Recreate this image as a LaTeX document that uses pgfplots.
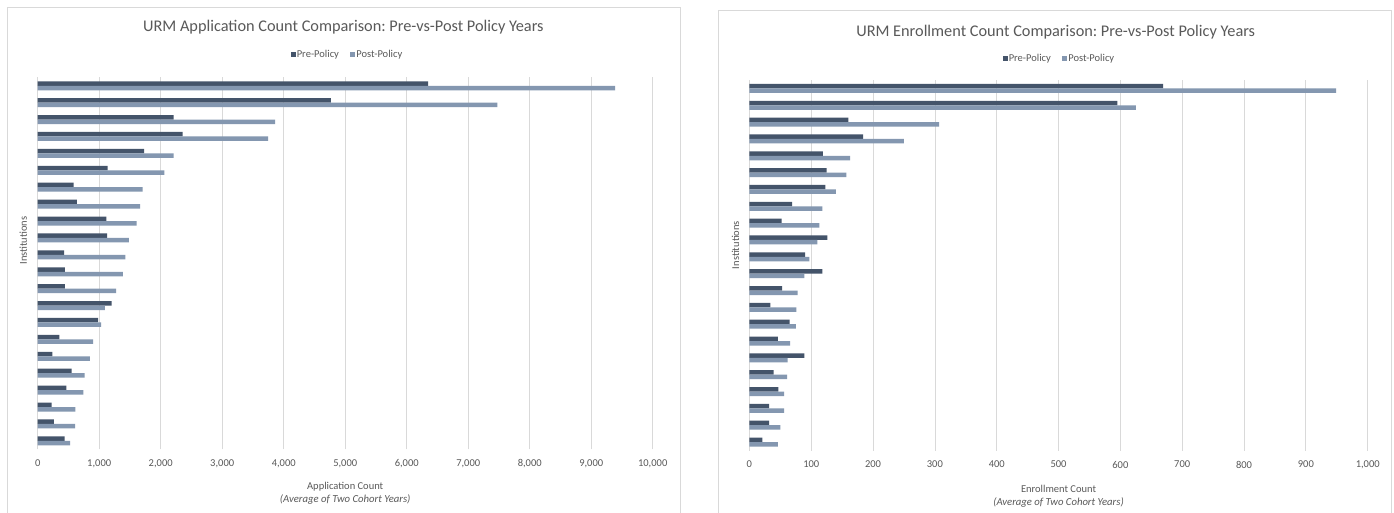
\documentclass[border=0pt]{standalone}
\usepackage{pgfplots}
\usepackage{pgfplotstable}
\pgfplotsset{compat=1.18}
\usepackage{fontspec}
\setmainfont{Carlito}
\definecolor{preC}{HTML}{44546A}
\definecolor{postC}{HTML}{8497B0}
\definecolor{gridC}{HTML}{D9D9D9}
\definecolor{txtC}{HTML}{595959}
\definecolor{bordC}{HTML}{D9D9D9}

\pgfplotstableread{
row pre post
1 6350 9390
2 4765 7475
3 2210 3860
4 2357 3748
5 1729 2209
6 1136 2061
7 586 1708
8 635 1666
9 1115 1609
10 1129 1482
11 430 1426
12 440 1383
13 440 1277
14 1200 1094
15 981 1030
16 353 903
17 240 847
18 550 762
19 466 741
20 226 614
21 261 607
22 438 529
}\apptab

\pgfplotstableread{
row pre post
1 669 949
2 595 625
3 160 307
4 184 250
5 119 163
6 125 157
7 123 140
8 69 118
9 52 113
10 126 110
11 90 97
12 118 89
13 53 78
14 34 76
15 65 75
16 46 66
17 89 62
18 39 61
19 47 56
20 32 56
21 32 50
22 21 46
}\enrtab

\pgfplotsset{
  common/.style={
    anchor=south west,
    scale only axis,
    ymin=0.5, ymax=22.5,
    ytick=\empty,
    axis line style={draw=none},
    xmajorgrids,
    grid style={color=gridC, line width=0.8pt},
    major tick length=0pt,
    scaled x ticks=false,
    every axis title shift=0pt,
    /pgf/number format/.cd, 1000 sep={,}, assume math mode=true,
    /pgfplots/.cd,
    xticklabel style={anchor=center, yshift=-14pt, font=\fontsize{10.5}{12}\selectfont, text=txtC},
    title style={anchor=center, font=\fontsize{16.3}{19}\selectfont, text=txtC},
    xlabel style={anchor=center, align=center, font=\fontsize{10.5}{13}\selectfont, text=txtC},
    ylabel style={anchor=center, font=\fontsize{10.5}{12}\selectfont, text=txtC},
    legend style={draw=none, fill=none, anchor=center, legend columns=2,
      font=\fontsize{10.5}{12}\selectfont, text=txtC,
      nodes={inner sep=1.2pt},
      /tikz/every even column/.append style={column sep=10pt}},
  },
  prebar/.style={xbar, bar width=4.5pt, bar shift=2.25pt, fill=preC, draw=none,
    legend image code/.code={\fill[preC] (0pt,-2.6pt) rectangle (5pt,2.6pt);}},
  postbar/.style={xbar, bar width=4.5pt, bar shift=-2.25pt, fill=postC, draw=none,
    legend image code/.code={\fill[postC] (0pt,-2.6pt) rectangle (5pt,2.6pt);}},
}

\begin{document}
\begin{tikzpicture}
\useasboundingbox (0pt,0pt) rectangle (1394pt,512pt);
\fill[white] (0pt,0pt) rectangle (1394pt,512pt);
\draw[bordC, line width=0.8pt] (7pt,-2pt) -- (7pt,504.7pt) -- (680.3pt,504.7pt) -- (680.3pt,-2pt);
\draw[bordC, line width=0.8pt] (718.3pt,-2pt) -- (718.3pt,501.3pt) -- (1391.7pt,501.3pt) -- (1391.7pt,-2pt);

\begin{axis}[common,
  at={(37.7pt,62.7pt)}, width=615pt, height=372pt,
  xmin=0, xmax=10000, xtick={0,1000,...,10000},
  title={URM Application Count Comparison:\ Pre-vs-Post Policy Years},
  title style={at={(axis description cs:0.497,1.1344)}},
  xlabel={Application Count\\{\fontsize{10.7}{12}\selectfont\itshape (Average of Two Cohort Years)}},
  xlabel style={at={(axis description cs:0.5,-0.1195)}},
  ylabel={Institutions},
  ylabel style={at={(axis description cs:-0.0234,0.561)}},
  legend style={at={(axis description cs:0.503,1.062)}},
]
\addplot[prebar] table[x=pre, y expr=23-\thisrow{row}] {\apptab};
\addplot[postbar] table[x=post, y expr=23-\thisrow{row}] {\apptab};
\legend{Pre-Policy, Post-Policy}
\end{axis}

\begin{axis}[common,
  at={(749.4pt,61.5pt)}, width=618.3pt, height=370.5pt,
  xmin=0, xmax=1000, xtick={0,100,...,1000},
  title={URM Enrollment Count Comparison:\ Pre-vs-Post Policy Years},
  title style={at={(axis description cs:0.4954,1.1304)}},
  xlabel={Enrollment Count\\{\fontsize{10.7}{12}\selectfont\itshape (Average of Two Cohort Years)}},
  xlabel style={at={(axis description cs:0.5,-0.124)}},
  ylabel={Institutions},
  ylabel style={at={(axis description cs:-0.0225,0.5547)}},
  legend style={at={(axis description cs:0.5007,1.0586)}},
]
\addplot[prebar] table[x=pre, y expr=23-\thisrow{row}] {\enrtab};
\addplot[postbar] table[x=post, y expr=23-\thisrow{row}] {\enrtab};
\legend{Pre-Policy, Post-Policy}
\end{axis}
\end{tikzpicture}
\end{document}
